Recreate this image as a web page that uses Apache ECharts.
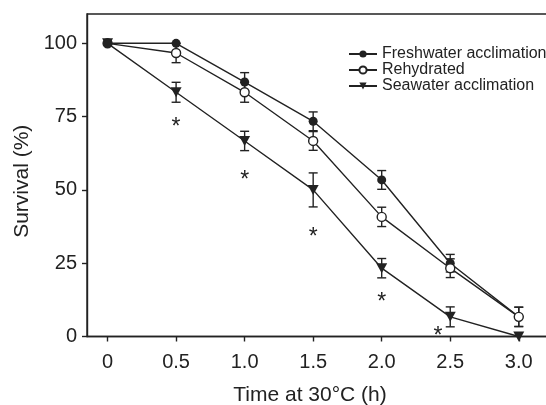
<!DOCTYPE html>
<html>
<head>
<meta charset="utf-8">
<script src="https://cdn.jsdelivr.net/npm/echarts@6/dist/echarts.min.js"></script>
<style>html,body{margin:0;padding:0;background:#fff;overflow:hidden}#c{width:546px;height:405px}</style>
</head>
<body>
<div id="c"></div>
<script>
const xValues = [0, 0.5, 1.0, 1.5, 2.0, 2.5, 3.0];
const freshwater = [100, 100, 86.8, 73.4, 53.4, 25.0, 6.7];
const freshwaterErr = [0, 0, 3.2, 3.2, 3.2, 3.0, 3.3];
const rehydrated = [100, 96.7, 83.3, 66.7, 40.8, 23.3, 6.7];
const rehydratedErr = [0, 3.3, 3.4, 3.2, 3.3, 3.2, 3.3];
const seawater = [100, 83.3, 66.7, 50.0, 23.3, 6.7, 0];
const seawaterErr = [0, 3.4, 3.3, 5.8, 3.3, 3.4, 0];
const asteriskX = [0.5, 1.0, 1.5, 2.0, 2.41];
const asteriskY = [73, 55, 35.5, 13.3, 1.7];
const xTicks = [0, 0.5, 1.0, 1.5, 2.0, 2.5, 3.0];
const xTickLabels = ['0', '0.5', '1.0', '1.5', '2.0', '2.5', '3.0'];
const yTicks = [0, 25, 50, 75, 100];
const seriesNames = ['Freshwater acclimation', 'Rehydrated', 'Seawater acclimation'];

const INK = '#222';
const FONT = 'Liberation Sans, Arial, Helvetica, sans-serif';

function pairs(ys) { return xValues.map((x, i) => [x, ys[i]]); }
function errData(ys, es) { return xValues.map((x, i) => [x, ys[i] - es[i], ys[i] + es[i]]); }

function errRender(params, api) {
  const lo = api.coord([api.value(0), api.value(1)]);
  const hi = api.coord([api.value(0), api.value(2)]);
  if (Math.abs(lo[1] - hi[1]) < 0.5) return null;
  const w = 4.5;
  const st = { stroke: INK, lineWidth: 1.4 };
  return {
    type: 'group',
    children: [
      { type: 'line', shape: { x1: lo[0], y1: lo[1], x2: hi[0], y2: hi[1] }, style: st },
      { type: 'line', shape: { x1: lo[0] - w, y1: lo[1], x2: lo[0] + w, y2: lo[1] }, style: st },
      { type: 'line', shape: { x1: hi[0] - w, y1: hi[1], x2: hi[0] + w, y2: hi[1] }, style: st }
    ]
  };
}

// rehydrated drawn above freshwater; its first point coincides with the filled freshwater point
const rehydratedData = pairs(rehydrated).map((p, i) => i === 0 ? { value: p, itemStyle: { color: INK } } : p);

const chart = echarts.init(document.getElementById('c'));
chart.setOption({
  animation: false,
  backgroundColor: '#fff',
  textStyle: { fontFamily: FONT, color: INK },
  grid: {
    left: 87, right: -8, top: 14, bottom: 68.5,
    outerBoundsMode: 'none', containLabel: false,
    show: true, borderColor: INK, borderWidth: 1.4, backgroundColor: 'transparent'
  },
  legend: {
    data: seriesNames,
    orient: 'vertical',
    left: 348,
    top: 46,
    padding: 0,
    itemWidth: 28,
    itemHeight: 9,
    itemGap: 0,
    textStyle: { fontSize: 16, color: INK, fontFamily: FONT, lineHeight: 16 }
  },
  xAxis: {
    type: 'value',
    min: -0.15,
    max: 3.257,
    name: 'Time at 30°C (h)',
    nameLocation: 'middle',
    nameGap: 48,
    nameTextStyle: { fontSize: 21, color: INK, fontFamily: FONT, padding: [0, 21, 0, 0] },
    splitLine: { show: false },
    axisLine: { show: true, onZero: false, lineStyle: { color: INK, width: 1.4 } },
    axisTick: { show: true, length: 5, inside: false, customValues: xTicks, lineStyle: { color: INK, width: 1.4 } },
    axisLabel: {
      customValues: xTicks,
      margin: 16,
      fontSize: 20,
      color: INK,
      fontFamily: FONT,
      formatter: v => { const i = xTicks.indexOf(v); return i >= 0 ? xTickLabels[i] : ''; }
    }
  },
  yAxis: {
    type: 'value',
    min: 0,
    max: 110,
    name: 'Survival (%)',
    nameLocation: 'middle',
    nameGap: 45,
    nameTextStyle: { fontSize: 21, color: INK, fontFamily: FONT, padding: [0, 12, 0, 0] },
    splitLine: { show: false },
    axisLine: { show: true, onZero: false, lineStyle: { color: INK, width: 1.4 } },
    axisTick: { show: true, length: 5, customValues: yTicks, lineStyle: { color: INK, width: 1.4 } },
    axisLabel: { customValues: yTicks, margin: 10, fontSize: 20, color: INK, fontFamily: FONT }
  },
  series: [
    { type: 'custom', renderItem: errRender, data: errData(freshwater, freshwaterErr), z: 1, silent: true },
    { type: 'custom', renderItem: errRender, data: errData(rehydrated, rehydratedErr), z: 1, silent: true },
    { type: 'custom', renderItem: errRender, data: errData(seawater, seawaterErr), z: 1, silent: true },
    {
      name: seriesNames[2], type: 'line', data: pairs(seawater), z: 3,
      symbol: 'triangle', symbolRotate: 180, symbolSize: [11, 10],
      lineStyle: { color: INK, width: 1.4 }, itemStyle: { color: INK }
    },
    {
      name: seriesNames[0], type: 'line', data: pairs(freshwater), z: 4,
      symbol: 'circle', symbolSize: 9,
      lineStyle: { color: INK, width: 1.4 }, itemStyle: { color: INK }
    },
    {
      name: seriesNames[1], type: 'line', data: rehydratedData, z: 5,
      symbol: 'circle', symbolSize: 9,
      lineStyle: { color: INK, width: 1.4 }, itemStyle: { color: '#fff', borderColor: INK, borderWidth: 1.4 }
    },
    {
      type: 'custom', silent: true, z: 6,
      data: asteriskX.map((x, i) => [x, asteriskY[i]]),
      renderItem: (params, api) => {
        const p = api.coord([api.value(0), api.value(1)]);
        return { type: 'text', x: p[0], y: p[1] + 5, style: { text: '*', fontSize: 23, fontFamily: FONT, fill: INK, align: 'center', verticalAlign: 'middle' } };
      }
    }
  ]
});
</script>
</body>
</html>
